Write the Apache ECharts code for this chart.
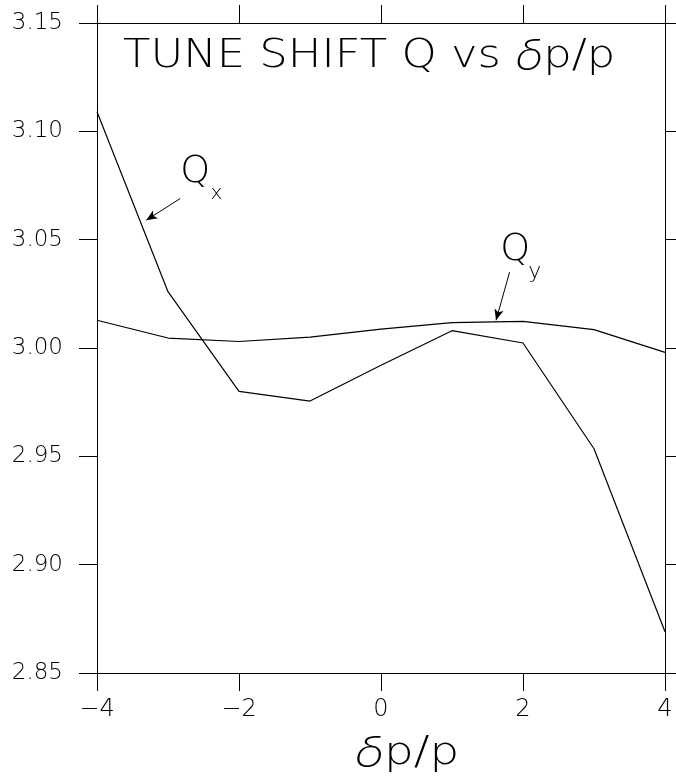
<!DOCTYPE html>
<html>
<head>
<meta charset="utf-8">
<script src="https://cdn.jsdelivr.net/npm/echarts@6/dist/echarts.min.js"></script>
<style>html,body{margin:0;padding:0;background:#fff}#c{width:676px;height:776px}</style>
</head>
<body>
<div id="c"></div>
<script>
// data
const dpp = [-4, -3, -2, -1, 0, 1, 2, 3, 4];
const qx = [3.109, 3.026, 2.980, 2.9755, 2.992, 3.008, 3.0023, 2.9535, 2.869];
const qy = [3.0128, 3.0046, 3.003, 3.005, 3.0087, 3.0117, 3.0123, 3.0085, 2.998];
const xTicks = [-4, -2, 0, 2, 4];
const yTicks = [2.85, 2.90, 2.95, 3.00, 3.05, 3.10, 3.15];
// annotation arrows (data coords): start -> end
const arrowQx = [[-2.827, 3.069], [-3.306, 3.059]];
const arrowQy = [[1.811, 3.035], [1.620, 3.0128]];
// annotation label anchors (data coords)
const labQx = { q: [-2.827, 3.0811], s: [-2.40, 3.0712] };
const labQy = { q: [1.680, 3.0453], s: [2.075, 3.0350] };

const FONT = '"DejaVu Sans ExtraLight", "DejaVu Sans", sans-serif';
const GREEK = '"Inter", "Lato", "Open Sans", "DejaVu Sans ExtraLight", sans-serif';
const axisCommon = {
  axisLine: { show: true, onZero: false, lineStyle: { color: '#000', width: 1 } },
  axisTick: { show: true, inside: false, length: 18, lineStyle: { color: '#000', width: 1 } },
  splitLine: { show: false }
};
const chart = echarts.init(document.getElementById('c'), null, { renderer: 'canvas' });
const option = {
  animation: false,
  backgroundColor: '#fff',
  grid: { left: 97, right: 11, top: 23, bottom: 103, containLabel: false },
  xAxis: [
    Object.assign({
      type: 'value', position: 'bottom', min: xTicks[0], max: xTicks[xTicks.length - 1], interval: 2,
      axisLabel: { show: true, margin: 25, fontSize: 24, color: '#000', fontFamily: FONT, fontWeight: 200,
        formatter: v => (v < 0 ? '\u2212' + Math.abs(v) : String(v)) }
    }, axisCommon),
    Object.assign({
      type: 'value', position: 'top', min: xTicks[0], max: xTicks[xTicks.length - 1], interval: 2,
      axisLabel: { show: false }
    }, axisCommon)
  ],
  yAxis: [
    Object.assign({
      type: 'value', position: 'left', min: yTicks[0], max: yTicks[yTicks.length - 1], interval: 0.05,
      axisLabel: { show: true, margin: 34, fontSize: 23, color: '#000', fontFamily: FONT, fontWeight: 200,
        formatter: v => v.toFixed(2) }
    }, axisCommon),
    Object.assign({
      type: 'value', position: 'right', min: yTicks[0], max: yTicks[yTicks.length - 1], interval: 0.05,
      axisLabel: { show: false }
    }, axisCommon)
  ],
  series: [
    {
      name: 'Qx', type: 'line', data: dpp.map((d, i) => [d, qx[i]]),
      showSymbol: false, symbol: 'none', lineStyle: { color: '#000', width: 1.2 },
      markLine: {
        silent: true, symbol: ['none', 'arrow'], symbolSize: [7, 11],
        lineStyle: { color: '#000', width: 1, type: 'solid' }, label: { show: false },
        data: [[{ coord: arrowQx[0] }, { coord: arrowQx[1] }]]
      }
    },
    {
      name: 'Qy', type: 'line', data: dpp.map((d, i) => [d, qy[i]]),
      showSymbol: false, symbol: 'none', lineStyle: { color: '#000', width: 1.2 },
      markLine: {
        silent: true, symbol: ['none', 'arrow'], symbolSize: [7, 11],
        lineStyle: { color: '#000', width: 1, type: 'solid' }, label: { show: false },
        data: [[{ coord: arrowQy[0] }, { coord: arrowQy[1] }]]
      }
    }
  ]
};
chart.setOption(option);

function px(p) { return chart.convertToPixel({ xAxisIndex: 0, yAxisIndex: 0 }, p); }
const pQx = px(labQx.q), sQx = px(labQx.s), pQy = px(labQy.q), sQy = px(labQy.s);
const gl = chart.convertToPixel({ xAxisIndex: 0, yAxisIndex: 0 }, [0, 2.85]);
chart.setOption({
  graphic: [
    { type: 'text', x: 123, y: 57, scaleX: 1.15, style: {
        text: '{a|TUNE SHIFT Q vs }{d|\u03b4}{a|p/p}', verticalAlign: 'middle', align: 'left',
        rich: {
          a: { fontSize: 39, fontFamily: FONT, fontWeight: 200, fill: '#000' },
          d: { fontSize: 42, fontFamily: GREEK, fontWeight: 200, fontStyle: 'italic', fill: '#000' }
        } } },
    { type: 'text', x: pQx[0], y: pQx[1], style: { text: 'Q', fontSize: 38, fontFamily: FONT, fontWeight: 200, fill: '#000', align: 'left', verticalAlign: 'middle' } },
    { type: 'text', x: sQx[0], y: sQx[1], style: { text: 'x', fontSize: 20, fontFamily: FONT, fontWeight: 200, fill: '#000', align: 'left', verticalAlign: 'middle' } },
    { type: 'text', x: pQy[0], y: pQy[1], style: { text: 'Q', fontSize: 38, fontFamily: FONT, fontWeight: 200, fill: '#000', align: 'left', verticalAlign: 'middle' } },
    { type: 'text', x: sQy[0], y: sQy[1], style: { text: 'y', fontSize: 22, fontFamily: FONT, fontWeight: 200, fill: '#000', align: 'left', verticalAlign: 'middle' } },
    { type: 'text', x: gl[0] + 26, y: 754, scaleX: 1.2, style: {
        text: '{d|\u03b4}{a|p/p}', align: 'center', verticalAlign: 'middle',
        rich: {
          a: { fontSize: 39, fontFamily: FONT, fontWeight: 200, fill: '#000' },
          d: { fontSize: 42, fontFamily: GREEK, fontWeight: 200, fontStyle: 'italic', fill: '#000' }
        } } }
  ]
});
</script>
</body>
</html>
